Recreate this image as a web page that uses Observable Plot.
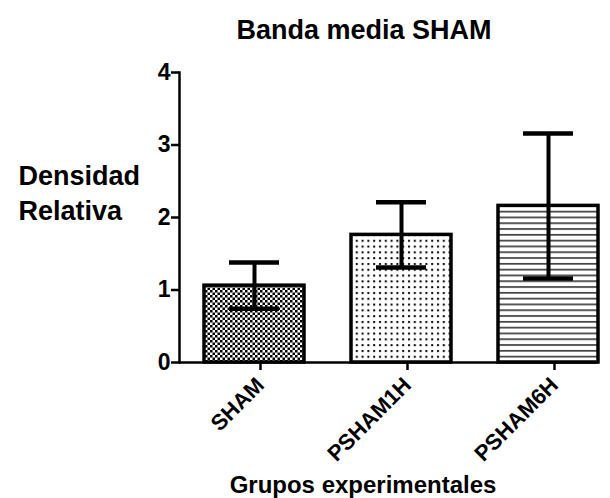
<!DOCTYPE html>
<html>
<head>
<meta charset="utf-8">
<script src="https://cdn.jsdelivr.net/npm/d3@7"></script>
<script src="https://cdn.jsdelivr.net/npm/@observablehq/plot@0.6"></script>
<style>
  html, body { margin: 0; padding: 0; background: #fff; }
  svg { font-family: "Liberation Sans", Arial, sans-serif; }
</style>
</head>
<body>
<div id="chart"></div>
<script>
const groups = ["SHAM", "PSHAM1H", "PSHAM6H"];
const means = [1.06, 1.76, 2.16];
const errors = [0.32, 0.45, 1.00];
const patterns = ["checker", "dots", "hlines"];
const yTicks = [0, 1, 2, 3, 4];
const title = "Banda media SHAM";
const yLabel = "Densidad\nRelativa";
const xLabel = "Grupos experimentales";

const data = groups.map((g, i) => ({group: g, mean: means[i], err: errors[i], pattern: patterns[i]}));

const barMarks = data.map(d =>
  Plot.barY([d], {x: "group", y: "mean", fill: `url(#${d.pattern})`, stroke: "black", strokeWidth: 3.5, strokeLinejoin: "miter"})
);

const chart = Plot.plot({
  width: 610,
  height: 498,
  marginTop: 72,
  marginBottom: 136,
  marginLeft: 179,
  marginRight: 12,
  x: {domain: groups, paddingInner: 0.32, paddingOuter: 0.085, align: 1, label: null},
  y: {domain: [0, 4], label: null},
  marks: [
    ...barMarks,
    Plot.ruleX(data, {x: "group", y1: d => d.mean - d.err, y2: d => d.mean + d.err, strokeWidth: 4}),
    Plot.tickY(data, {x: "group", y: d => d.mean + d.err, strokeWidth: 4.5, insetLeft: 25, insetRight: 25}),
    Plot.tickY(data, {x: "group", y: d => d.mean - d.err, strokeWidth: 4.5, insetLeft: 25, insetRight: 25}),
    Plot.ruleY([0], {strokeWidth: 2.5}),
    Plot.frame({anchor: "left", strokeWidth: 2.5}),
    Plot.axisY({ticks: yTicks, tickSize: 8, tickPadding: 1, tickFormat: d => String(d), fontSize: 23, fontWeight: "bold", strokeWidth: 2.5}),
    Plot.axisX({tickSize: 8, tickPadding: 11, tickRotate: -45, fontSize: 22, fontWeight: "bold", strokeWidth: 2.5, dx: 6}),
    Plot.text([title], {frameAnchor: "top", dx: -25, dy: -53, fontSize: 27, fontWeight: "bold"}),
    Plot.text([yLabel], {frameAnchor: "left", textAnchor: "start", dx: -161, dy: -26, fontSize: 27, fontWeight: "bold", lineHeight: 1.3}),
    Plot.text([xLabel], {frameAnchor: "bottom", dx: -26, dy: 130, fontSize: 24, fontWeight: "bold"})
  ]
});

const defs = d3.select(chart).insert("defs", ":first-child");
// checkerboard
const pc = defs.append("pattern").attr("id", "checker").attr("patternUnits", "userSpaceOnUse")
  .attr("width", 5).attr("height", 5);
pc.append("rect").attr("width", 5).attr("height", 5).attr("fill", "white");
pc.append("rect").attr("width", 2.5).attr("height", 2.5).attr("fill", "black");
pc.append("rect").attr("x", 2.5).attr("y", 2.5).attr("width", 2.5).attr("height", 2.5).attr("fill", "black");
// dots
const pd = defs.append("pattern").attr("id", "dots").attr("patternUnits", "userSpaceOnUse")
  .attr("width", 5.8).attr("height", 5.8);
pd.append("rect").attr("width", 5.8).attr("height", 5.8).attr("fill", "white");
pd.append("rect").attr("x", 2).attr("y", 2).attr("width", 2).attr("height", 2).attr("fill", "black");
// horizontal lines
const ph = defs.append("pattern").attr("id", "hlines").attr("patternUnits", "userSpaceOnUse")
  .attr("width", 10).attr("height", 5.8);
ph.append("rect").attr("width", 10).attr("height", 5.8).attr("fill", "white");
ph.append("rect").attr("y", 2).attr("width", 10).attr("height", 1.6).attr("fill", "#333");

document.getElementById("chart").appendChild(chart);
</script>
</body>
</html>
